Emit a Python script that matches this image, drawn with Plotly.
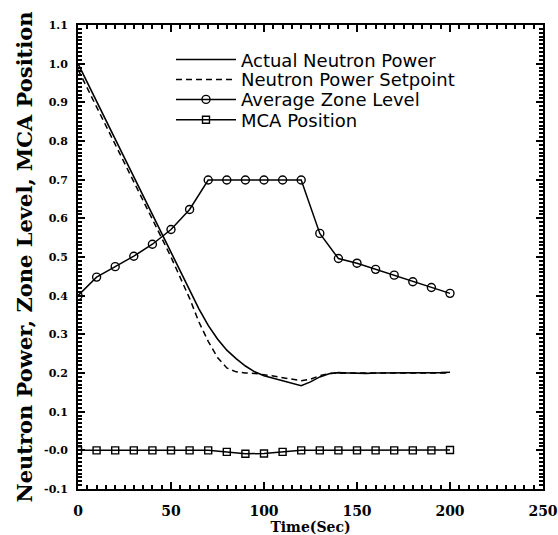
import plotly.graph_objects as go

# ---- data ----
time_power = [0, 5, 10, 15, 20, 25, 30, 35, 40, 45, 50, 55, 60, 65, 70, 75, 80, 85, 90, 95,
              100, 105, 110, 115, 120, 125, 130, 135, 140, 145, 150, 155, 160, 165, 170,
              175, 180, 185, 190, 195, 200]
actual_power = [1.000, 0.951, 0.903, 0.854, 0.805, 0.757, 0.708, 0.659, 0.611, 0.562,
                0.514, 0.465, 0.414, 0.366, 0.323, 0.288, 0.259, 0.237, 0.218, 0.203,
                0.193, 0.186, 0.179, 0.173, 0.167, 0.177, 0.190, 0.198, 0.201, 0.200,
                0.199, 0.199, 0.200, 0.200, 0.200, 0.200, 0.200, 0.200, 0.201, 0.201, 0.202]
setpoint_power = [0.985, 0.937, 0.889, 0.840, 0.792, 0.743, 0.695, 0.646, 0.598, 0.549,
                  0.500, 0.448, 0.393, 0.332, 0.282, 0.240, 0.213, 0.203, 0.200, 0.199,
                  0.196, 0.192, 0.188, 0.184, 0.180, 0.184, 0.193, 0.199, 0.200, 0.200,
                  0.200, 0.200, 0.200, 0.200, 0.200, 0.200, 0.200, 0.200, 0.200, 0.200, 0.200]
time_markers = [0, 10, 20, 30, 40, 50, 60, 70, 80, 90, 100, 110, 120, 130, 140, 150, 160,
                170, 180, 190, 200]
zone_level = [0.400, 0.448, 0.475, 0.502, 0.533, 0.571, 0.623, 0.699, 0.699, 0.699, 0.699,
              0.699, 0.699, 0.561, 0.496, 0.484, 0.468, 0.453, 0.436, 0.421, 0.406]
mca_position = [0.0, 0.0, 0.0, 0.0, 0.0, 0.0, 0.0, 0.0, -0.004, -0.009, -0.008, -0.004,
                0.0, 0.0, 0.0, 0.0, 0.0, 0.0, 0.0, 0.0, 0.001]

series_names = ["Actual Neutron Power", "Neutron Power Setpoint",
                "Average Zone Level", "MCA Position"]

y_tickvals = [-0.1, 0.0, 0.1, 0.2, 0.3, 0.4, 0.5, 0.6, 0.7, 0.8, 0.9, 1.0, 1.1]
y_ticktext = ["-0.1", "-0.0", "0.1", "0.2", "0.3", "0.4", "0.5", "0.6", "0.7", "0.8",
              "0.9", "1.0", "1.1"]

# ---- figure ----
fig = go.Figure()
fig.add_trace(go.Scatter(x=time_power, y=actual_power, mode="lines", name=series_names[0],
                         line=dict(color="black", width=1.6), legend="legend"))
fig.add_trace(go.Scatter(x=time_power, y=setpoint_power, mode="lines", name=series_names[1],
                         line=dict(color="black", width=1.5, dash="6px,4px"), legend="legend2"))
fig.add_trace(go.Scatter(x=time_markers, y=zone_level, mode="lines+markers", name=series_names[2],
                         line=dict(color="black", width=1.5),
                         marker=dict(symbol="circle-open", size=8, color="black",
                                     line=dict(width=1.4, color="black")),
                         legend="legend3"))
fig.add_trace(go.Scatter(x=time_markers, y=mca_position, mode="lines+markers", name=series_names[3],
                         line=dict(color="black", width=1.5),
                         marker=dict(symbol="square-open", size=7, color="black",
                                     line=dict(width=1.4, color="black")),
                         legend="legend4"))

legend_font = dict(family="DejaVu Sans", size=18, color="black")
legend_common = dict(x=0.2, xanchor="left", yanchor="middle", bgcolor="rgba(0,0,0,0)",
                     borderwidth=0, font=legend_font, itemwidth=60)
legend_rows = [0.925, 0.882, 0.839, 0.795]

serif = "DejaVu Serif"

fig.update_layout(
    template="none",
    width=558, height=535,
    margin=dict(l=78, r=15, t=25, b=46, autoexpand=False),
    paper_bgcolor="white", plot_bgcolor="white",
    showlegend=True,
    legend=dict(y=legend_rows[0], **legend_common),
    legend2=dict(y=legend_rows[1], **legend_common),
    legend3=dict(y=legend_rows[2], **legend_common),
    legend4=dict(y=legend_rows[3], **legend_common),
    xaxis=dict(
        range=[0, 250], tickmode="linear", tick0=0, dtick=50,
        ticks="inside", ticklen=7, tickwidth=2, tickcolor="black",
        minor=dict(dtick=5, tick0=0, ticks="inside", ticklen=4, tickwidth=1.5, tickcolor="black"),
        showline=True, linecolor="black", linewidth=2, mirror="allticks",
        showgrid=False, zeroline=False, automargin=False,
        tickfont=dict(family=serif, size=14, color="black", weight="bold"),
        ticklabelstandoff=8,
        title=dict(text="Time(Sec)", standoff=2,
                   font=dict(family=serif, size=14, color="black", weight="bold")),
    ),
    yaxis=dict(
        range=[-0.1, 1.1], tickmode="array", tickvals=y_tickvals, ticktext=y_ticktext,
        ticks="inside", ticklen=7, tickwidth=2, tickcolor="black",
        minor=dict(dtick=0.01, tick0=0, ticks="inside", ticklen=4, tickwidth=1.5, tickcolor="black"),
        showline=True, linecolor="black", linewidth=2, mirror="allticks",
        showgrid=False, zeroline=False, automargin=False,
        tickfont=dict(family=serif, size=11, color="black", weight="bold"),
        ticklabelstandoff=6,
        title=dict(text="Neutron Power, Zone Level, MCA Position", standoff=6,
                   font=dict(family=serif, size=21, color="black", weight="bold")),
    ),
)

fig.write_html("out.html")
